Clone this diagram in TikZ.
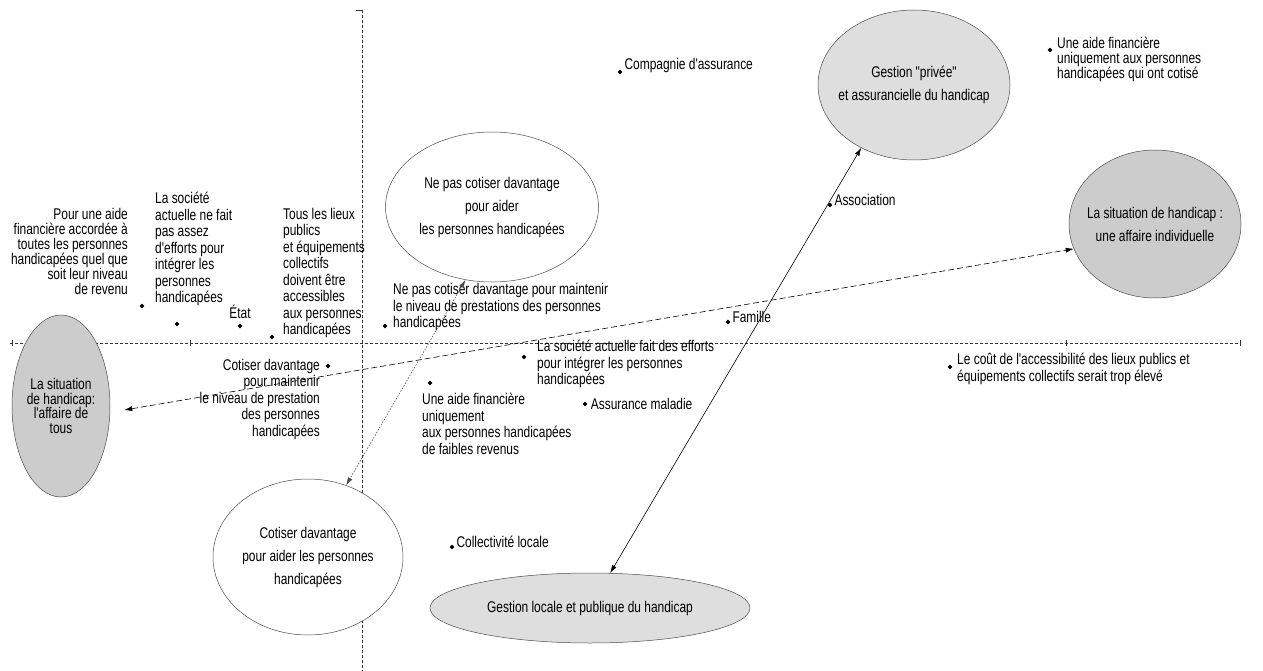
\documentclass[tikz,border=0pt]{standalone}
\usepackage{fontspec}
\setmainfont{Liberation Sans}[FakeStretch=0.77, Ligatures=TeXOff]
\usetikzlibrary{arrows.meta, shapes.geometric, positioning, calc}

\definecolor{grisfonce}{gray}{0.80}
\definecolor{grisclair}{gray}{0.87}

\tikzset{
  pt/.style={diamond, fill=black, inner sep=0pt, minimum size=5pt},
  lbl/.style={inner sep=0pt, text=black, font=\fontsize{15.5}{15}\selectfont},
  bloc/.style={lbl, font=\fontsize{15.5}{16.5}\selectfont},
  bulle/.style={ellipse, draw=black!70, line width=0.5pt, inner sep=-20pt,
    text=black, align=center, font=\fontsize{15.5}{23}\selectfont},
  axe/.style={draw=black!80, line width=0.6pt, dash pattern=on 3pt off 2pt},
  fl/.style={line width=0.6pt, {Latex[length=8pt,width=5pt]}-{Latex[length=8pt,width=5pt]}},
}

\begin{document}
\begin{tikzpicture}[x=1pt, y=-1pt]
    \useasboundingbox (0,0) rectangle (1263,671);

    % axes
    \coordinate (haut) at (362,10);
    \coordinate (bas) at (362,671);
    \coordinate (gauche) at (10,343);
    \coordinate (droite) at (1240,343);
    \draw[axe] (haut) -- (bas);
    \draw[axe] (gauche) -- (droite);
    \draw[black!80, line width=0.6pt] (356,10) -- (haut)
        (12,340) -- (12,346) (190,340) -- (190,346)
        (1066,340) -- (1066,346) (1240,340) -- (1240,346);

    % ellipses
    \node[bulle, fill=grisfonce, minimum width=98, minimum height=182,
          font=\fontsize{15.5}{14.5}\selectfont] (tous) at (61,406)
          {La situation\\de handicap:\\l'affaire de\\tous};
    \node[bulle, fill=grisfonce, minimum width=172, minimum height=148] (indiv) at (1155,224)
          {La situation de handicap :\\une affaire individuelle};
    \node[bulle, fill=grisclair, minimum width=192, minimum height=150] (priv) at (914,85)
          {Gestion "privée"\\et assurancielle du handicap};
    \node[bulle, fill=grisclair, minimum width=320, minimum height=70] (locale) at (590,608)
          {Gestion locale et publique du handicap};
    \node[bulle, fill=white, minimum width=213, minimum height=150] (nepas) at (492,207)
          {Ne pas cotiser davantage\\pour aider\\les personnes handicapées};
    \node[bulle, fill=white, minimum width=190, minimum height=156] (cotiser) at (308,557)
          {Cotiser davantage\\pour aider les personnes\\handicapées};

    % points
    \node[pt] (pAide) at (142,306) {};
    \node[pt] (pSociete) at (177,324) {};
    \node[pt] (pEtat) at (240,326) {};
    \node[pt] (pLieux) at (272,337) {};
    \node[pt] (pMaintenir) at (385,326) {};
    \node[pt] (pCotiserM) at (328,366) {};
    \node[pt] (pEfforts) at (524,357) {};
    \node[pt] (pFaibles) at (430,383) {};
    \node[pt] (pMaladie) at (585,404) {};
    \node[pt] (pFamille) at (728,322) {};
    \node[pt] (pAssoc) at (830,205) {};
    \node[pt] (pCompagnie) at (620,72) {};
    \node[pt] (pCotise) at (1050,50) {};
    \node[pt] (pCollect) at (452,547) {};
    \node[pt] (pCout) at (950,367) {};

    % textes
    \node[lbl, align=right, anchor=east] at (128,251)
        {Pour une aide\\financière accordée à\\toutes les personnes\\handicapées quel que\\soit leur niveau\\de revenu};
    \node[bloc, align=left, anchor=west] at (155,249)
        {La société\\actuelle ne fait\\pas assez\\d'efforts pour\\intégrer les\\personnes\\handicapées};
    \node[lbl, above=4pt of pEtat] {État};
    \node[bloc, align=left, anchor=west] at (283,273)
        {Tous les lieux\\publics\\et équipements\\collectifs\\doivent être\\accessibles\\aux personnes\\handicapées};
    \node[bloc, align=left, anchor=west] at (393,307)
        {Ne pas cotiser davantage pour maintenir\\le niveau de prestations des personnes\\handicapées};
    \node[bloc, align=right, anchor=east] at (320,399)
        {Cotiser davantage\\pour maintenir\\le niveau de prestation\\des personnes\\handicapées};
    \node[bloc, align=left, anchor=west] at (537,364)
        {La société actuelle fait des efforts\\pour intégrer les personnes\\handicapées};
    \node[bloc, align=left, anchor=west] at (422,424)
        {Une aide financière\\uniquement\\aux personnes handicapées\\de faibles revenus};
    \node[lbl, right=3pt of pMaladie] {Assurance maladie};
    \node[lbl, above right=-2pt and 3pt of pFamille] {Famille};
    \node[lbl, above right=-2pt and 3pt of pAssoc] {Association};
    \node[lbl, above right=-2pt and 3pt of pCompagnie] {Compagnie d'assurance};
    \node[lbl, align=left, anchor=west] at (1057,59)
        {Une aide financière\\uniquement aux personnes\\handicapées qui ont cotisé};
    \node[lbl, above right=-2pt and 3pt of pCollect] {Collectivité locale};
    \node[bloc, align=left, anchor=west] at (957,369)
        {Le coût de l'accessibilité des lieux publics et\\équipements collectifs serait trop élevé};

    % fleches
    \coordinate (tousD) at ($(tous.east)+(14,4)$);
    \draw[fl, dash pattern=on 6pt off 3pt] (tousD) -- (indiv.197);
    \draw[fl, black!70, dash pattern=on 1.5pt off 1.5pt] (nepas.250) -- (cotiser.62);
    \draw[fl] (priv.230) -- (locale.60);
\end{tikzpicture}
\end{document}
